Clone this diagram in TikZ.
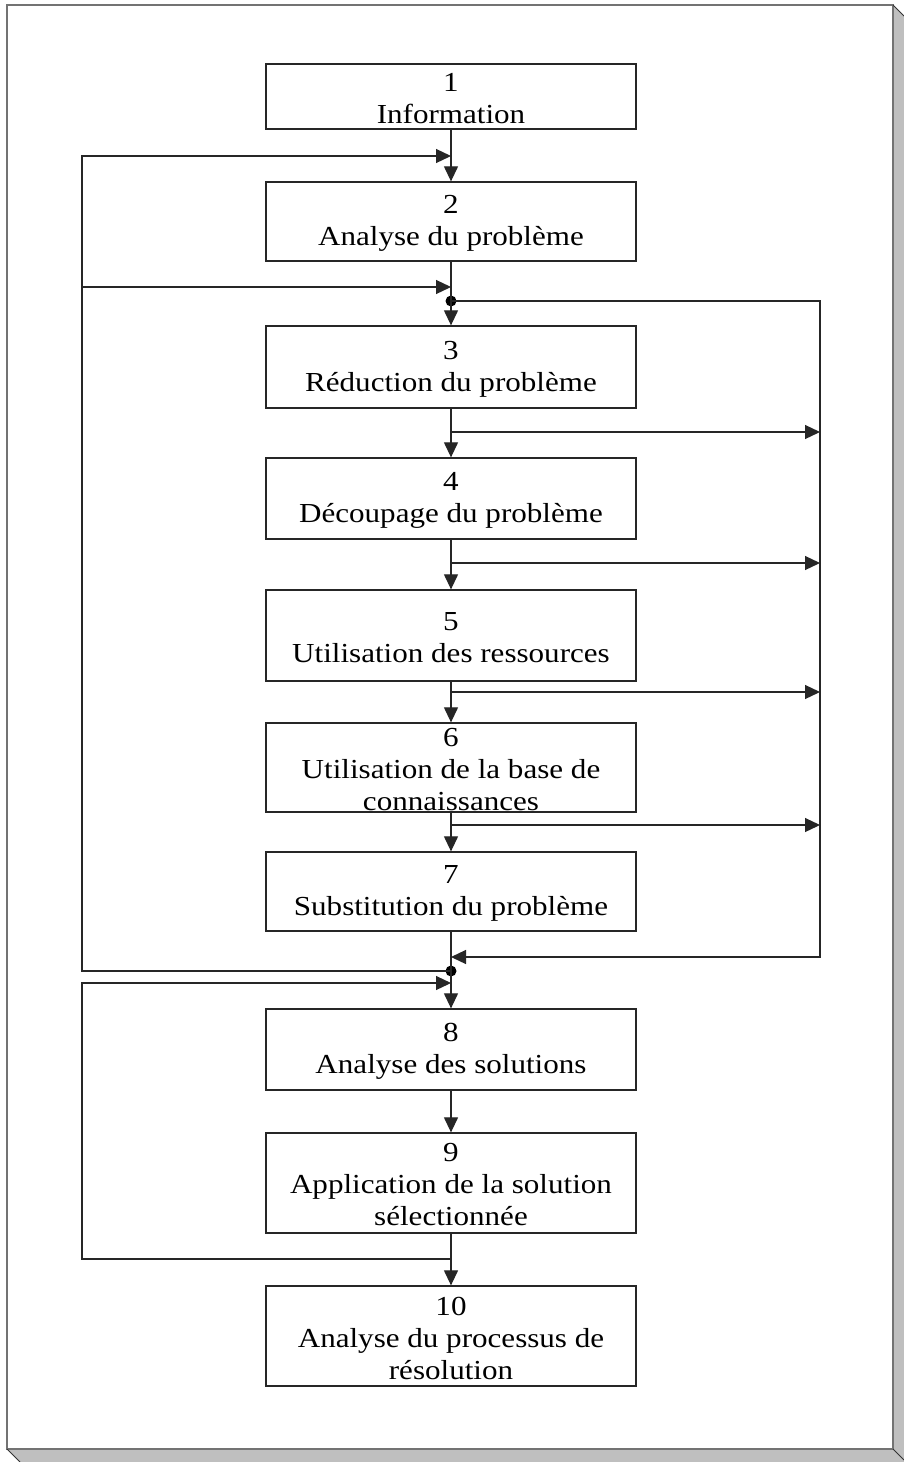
\documentclass[tikz,border=0pt]{standalone}
\usepackage{fontspec}
\setmainfont{Liberation Serif}[FakeStretch=1.13]
\usetikzlibrary{arrows.meta}

% one step of the procedure: box name, centre y, box height, text
\newcommand\flowstep[4]{%
  \node[stepbox, minimum height=#3pt] (#1) at (451,#2) {};
  \node[steptext] (#1t) at ([yshift=-2pt]#1.center) {#4};}

\begin{document}
\begin{tikzpicture}[x=1pt,y=-1pt,
  stepbox/.style={draw=black!85, line width=1.3pt, minimum width=370pt, inner sep=0pt},
  steptext/.style={align=center, font=\fontsize{27.5}{32}\selectfont, inner sep=0pt},
  flow/.style={draw=black!85, line width=1.2pt},
  arr/.style={flow, -{Triangle[length=15pt,width=14pt]}},
  dot/.style={circle, fill=black, inner sep=0pt, minimum size=11pt},
  sheet/.style={fill=white, draw=black!55, line width=2pt},
  shade/.style={fill=black!25}]
\useasboundingbox (0,0) rectangle (904,1462);

% page with its drop shadow
\fill[shade] (893,5) -- (904,16) -- (904,1462) -- (20,1462) -- (7,1449) -- (893,1449) -- cycle;
\draw[sheet] (7,5) rectangle (893,1449);
\draw[black!80, line width=1pt] (893,5) -- (904,16) (7,1449) -- (20,1462) (893,1449) -- (904,1460);

% steps
\flowstep{b1}{96.5}{65}{1\\Information}
\flowstep{b2}{221.5}{79}{2\\Analyse du problème}
\flowstep{b3}{367}{82}{3\\Réduction du problème}
\flowstep{b4}{498.5}{81}{4\\Découpage du problème}
\flowstep{b5}{635.5}{91}{5\\Utilisation des ressources}
\flowstep{b6}{767.5}{89}{6\\Utilisation de la base de\\connaissances}
\flowstep{b7}{891.5}{79}{7\\Substitution du problème}
\flowstep{b8}{1049.5}{81}{8\\Analyse des solutions}
\flowstep{b9}{1183}{100}{9\\Application de la solution\\sélectionnée}
\flowstep{b10}{1336}{100}{10\\Analyse du processus de\\résolution}

% junctions on the main line
\coordinate (j1) at (451,156);
\coordinate (j2) at (451,287);
\node[dot] (d1) at (451,301) {};
\coordinate (r3) at (451,432);
\coordinate (r4) at (451,563);
\coordinate (r5) at (451,692);
\coordinate (r6) at (451,825);
\coordinate (k1) at (451,957);
\node[dot] (d2) at (451,971) {};
\coordinate (j8) at (451,983);
\coordinate (j9) at (451,1259);

% rails
\coordinate (t1) at (820,301);
\coordinate (e3) at (820,432);
\coordinate (e4) at (820,563);
\coordinate (e5) at (820,692);
\coordinate (e6) at (820,825);
\coordinate (l1) at (82,971);
\coordinate (l2) at (82,1259);

% main sequence
\draw[arr] (b1.south) -- (b2.north);
\draw[arr] (b2.south) -- (b3.north);
\draw[arr] (b3.south) -- (b4.north);
\draw[arr] (b4.south) -- (b5.north);
\draw[arr] (b5.south) -- (b6.north);
\draw[arr] (b6.south) -- (b7.north);
\draw[arr] (b7.south) -- (b8.north);
\draw[arr] (b8.south) -- (b9.north);
\draw[arr] (b9.south) -- (b10.north);

% exits to the right rail
\draw[arr] (r3) -- (e3);
\draw[arr] (r4) -- (e4);
\draw[arr] (r5) -- (e5);
\draw[arr] (r6) -- (e6);

% bypass from step 2 to the solutions
\draw[arr] (d1.center) -- (t1) |- (k1);

% return loops on the left
\draw[arr] (d2.center) -- (l1) |- (j1);
\draw[arr] (l1 |- j2) -- (j2);
\draw[arr] (j9) -- (l2) |- (j8);
\end{tikzpicture}
\end{document}
